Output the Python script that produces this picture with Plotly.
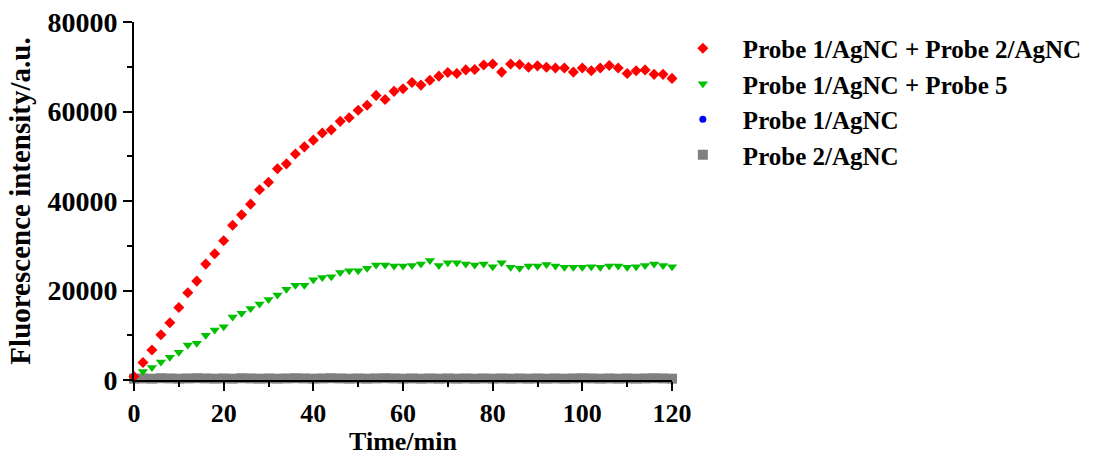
import plotly.graph_objects as go

time_min = list(range(0, 121, 2))

probe1_probe2 = [800, 3900, 6700, 10100, 12800, 16200, 19500, 22100, 25900, 28200,
                 31100, 34600, 36900, 39300, 42500, 44200, 47200, 48300, 50500, 52100,
                 53600, 55200, 55900, 57800, 58600, 60300, 61400, 63600, 62700, 64500,
                 65100, 66500, 65900, 67000, 67900, 68700, 68500, 69300, 69400, 70400,
                 70600, 68800, 70600, 70500, 69900, 70200, 69900, 69700, 69700, 68800,
                 69700, 69100, 69700, 70300, 69700, 68500, 69100, 69300, 68300, 68300,
                 67400]

probe1_probe5 = [300, 1900, 2800, 4000, 5100, 6200, 7800, 8200, 10000, 11200,
                 11900, 14100, 14900, 16000, 17000, 18000, 19000, 20300, 21200, 21200,
                 22400, 22900, 23100, 24000, 24400, 24400, 25000, 25700, 25700, 25500,
                 25500, 25600, 25900, 26700, 25600, 26200, 26200, 25900, 25700, 25900,
                 25300, 26200, 25200, 25000, 25500, 25500, 25800, 25500, 25200, 25200,
                 25200, 25300, 25200, 25500, 25500, 25200, 25300, 25600, 25900, 25600,
                 25300]

probe1_only = [-500, -550, -600, -500, -650, -600, -550, -600, -650, -600,
               -550, -600, -650, -600, -600, -650, -550, -600, -600, -650,
               -600, -550, -600, -650, -600, -600, -550, -600, -650, -600,
               -600, -650, -550, -600, -600, -650, -600, -550, -600, -650,
               -600, -600, -550, -600, -650, -600, -600, -650, -550, -600,
               -600, -650, -600, -550, -600, -650, -600, -600, -550, -600,
               -600]

probe2_only = [300, 350, 300, 400, 350, 300, 350, 400, 350, 300,
               350, 300, 400, 350, 300, 350, 300, 350, 400, 350,
               300, 350, 400, 350, 300, 350, 300, 350, 400, 350,
               300, 350, 300, 350, 300, 350, 300, 350, 300, 350,
               300, 350, 300, 350, 300, 350, 300, 350, 300, 350,
               400, 350, 300, 350, 300, 350, 300, 350, 400, 350,
               300]

series_names = ["Probe 1/AgNC + Probe 2/AgNC", "Probe 1/AgNC + Probe 5",
                "Probe 1/AgNC", "Probe 2/AgNC"]

x_ticks = [0, 20, 40, 60, 80, 100, 120]
y_ticks = [0, 20000, 40000, 60000, 80000]

FONT = "Liberation Serif"

fig = go.Figure()

fig.add_trace(go.Scatter(x=time_min, y=probe1_only, mode="markers", name=series_names[2],
                         marker=dict(symbol="circle", size=7, color="#0000FF"),
                         cliponaxis=False, legendrank=3))
fig.add_trace(go.Scatter(x=time_min, y=probe2_only, mode="markers", name=series_names[3],
                         marker=dict(symbol="square", size=10, color="#808080"),
                         cliponaxis=False, legendrank=4))
fig.add_trace(go.Scatter(x=time_min, y=probe1_probe5, mode="markers", name=series_names[1],
                         marker=dict(symbol="triangle-down", size=9, color="#00C000"),
                         cliponaxis=False, legendrank=2))
fig.add_trace(go.Scatter(x=time_min, y=probe1_probe2, mode="markers", name=series_names[0],
                         marker=dict(symbol="diamond", size=8.5, color="#FF0000"),
                         cliponaxis=False, legendrank=1))

fig.update_layout(
    width=1099, height=456,
    margin=dict(l=134, r=425, t=22, b=76),
    paper_bgcolor="white", plot_bgcolor="white",
    font=dict(family=FONT, color="black"),
    showlegend=True,
    legend=dict(x=0.983, y=0.99, xanchor="left", yanchor="top",
                font=dict(family=FONT, size=25, color="black", weight="bold"),
                itemwidth=70, bgcolor="rgba(0,0,0,0)", tracegroupgap=0,
                borderwidth=0),
)

fig.update_xaxes(
    range=[0, 120], tickvals=x_ticks, ticktext=[str(v) for v in x_ticks],
    automargin=False,
    showline=True, linecolor="black", linewidth=2, mirror=False,
    ticks="outside", ticklen=9, tickwidth=2, tickcolor="black",
    minor=dict(dtick=10, ticks="outside", ticklen=5, tickwidth=2, tickcolor="black"),
    showgrid=False, zeroline=False,
    tickfont=dict(family=FONT, size=26, color="black", weight="bold"),
    title=dict(text="Time/min", font=dict(family=FONT, size=26, color="black", weight="bold"),
               standoff=12),
)
fig.update_yaxes(
    range=[0, 80000], tickvals=y_ticks, ticktext=[str(v) for v in y_ticks],
    automargin=False,
    showline=True, linecolor="black", linewidth=2, mirror=False,
    ticks="outside", ticklen=9, tickwidth=2, tickcolor="black",
    minor=dict(dtick=10000, ticks="outside", ticklen=5, tickwidth=2, tickcolor="black"),
    showgrid=False, zeroline=False,
    tickfont=dict(family=FONT, size=28, color="black", weight="bold"),
    title=dict(text="Fluorescence intensity/a.u.",
               font=dict(family=FONT, size=29, color="black", weight="bold"),
               standoff=8),
)

fig.write_html("out.html")
